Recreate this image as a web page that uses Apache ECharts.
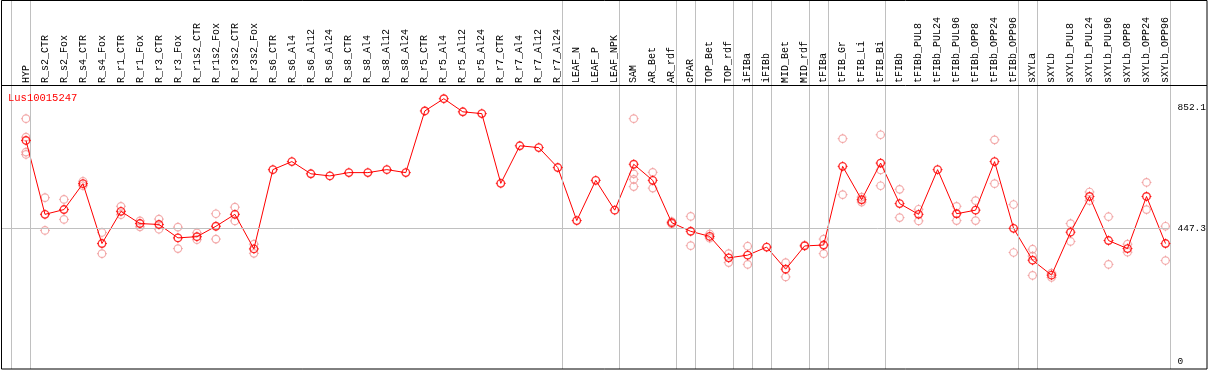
<!DOCTYPE html>
<html>
<head>
<meta charset="utf-8">
<script src="https://cdn.jsdelivr.net/npm/echarts@6/dist/echarts.min.js"></script>
<style>
html,body{margin:0;padding:0;background:#fff;}
#chart{width:1209px;height:370px;}
</style>
</head>
<body>
<div id="chart"></div>
<script>
const geneName = 'Lus10015247';
const categories = ['HYP','R_s2_CTR','R_s2_Fox','R_s4_CTR','R_s4_Fox','R_r1_CTR','R_r1_Fox','R_r3_CTR','R_r3_Fox','R_r1s2_CTR','R_r1s2_Fox','R_r3s2_CTR','R_r3s2_Fox','R_s6_CTR','R_s6_Al4','R_s6_Al12','R_s6_Al24','R_s8_CTR','R_s8_Al4','R_s8_Al12','R_s8_Al24','R_r5_CTR','R_r5_Al4','R_r5_Al12','R_r5_Al24','R_r7_CTR','R_r7_Al4','R_r7_Al12','R_r7_Al24','LEAF_N','LEAF_P','LEAF_NPK','SAM','AR_Bet','AR_rdf','cPAR','TOP_Bet','TOP_rdf','iFIBa','iFIBb','MID_Bet','MID_rdf','tFIBa','tFIB_Gr','tFIB_Li','tFIB_Bi','tFIBb','tFIBb_PUL8','tFIBb_PUL24','tFIBb_PUL96','tFIBb_OPP8','tFIBb_OPP24','tFIBb_OPP96','sXYLa','sXYLb','sXYLb_PUL8','sXYLb_PUL24','sXYLb_PUL96','sXYLb_OPP8','sXYLb_OPP24','sXYLb_OPP96'];
const meanValues = [742,494,510,597,396,504,463,460,415,419,454,494,378,644,671,630,623,634,634,644,634,841,882,838,832,598,724,718,651,473,608,508,662,608,466,437,420,348,357,384,310,388,391,655,543,666,530,494,644,496,508,671,447,340,290,434,554,406,379,554,396];
const replicateValues = [[815,753,703,695],[550,440],[544,477],[605,590],[433,362],[521,493],[472,452],[478,444],[451,379],[432,409],[496,411],[518,472],[394,363],[],[],[],[],[],[],[],[],[],[],[],[],[],[],[],[],[],[],[],[815,630,611,587],[635,582],[470,462],[487,389],[428,414],[362,332],[387,326],[],[332,284],[391],[411,362],[748,560],[552,535],[761,643,590],[578,483],[511,472],[],[521,473],[540,473],[744,597],[527,366],[377,354,289],[297,282],[463,403],[569,540],[486,326],[394,367],[601,510],[454,339]];
const groupStarts = ['HYP','R_s2_CTR','LEAF_N','SAM','cPAR','TOP_Bet','iFIBa','iFIBb','MID_Bet','tFIBa','tFIB_Gr','tFIBb','sXYLa','sXYLb'];
const yTickLabels = [0, 447.3, 852.1];
const refLineValue = 447.3;

// styling / layout constants
const SEP_OFFSET = 4 / 19;
const X_MIN = -25 / 19, X_MAX = 1144 / 19;
const FONT = '"Liberation Mono", "DejaVu Sans Mono", monospace';
const tickPath = 'path://M0,-5L0,-3.5M0,3.5L0,5M-5,0L-3.5,0M3.5,0L5,0';

const sepPositions = groupStarts.map(n => categories.indexOf(n) - 1 + SEP_OFFSET);
sepPositions.push(categories.length - 1 + SEP_OFFSET);

const mainData = meanValues.map((v, i) => [i, v]);
const repData = [];
replicateValues.forEach((arr, i) => arr.forEach(v => repData.push([i, v])));

function markerSeries(name, data, color, z, width) {
  return [
    {name: name, type: 'scatter', xAxisIndex: 1, yAxisIndex: 1, data: data,
      symbol: 'circle', symbolSize: 7.5, z: z, silent: true,
      itemStyle: {color: 'rgba(0,0,0,0)', borderColor: color, borderWidth: width}},
    {name: name, type: 'scatter', xAxisIndex: 1, yAxisIndex: 1, data: data,
      symbol: tickPath, symbolSize: 10, z: z, silent: true,
      itemStyle: {color: 'rgba(0,0,0,0)', borderColor: color, borderWidth: 1}}
  ];
}

const chart = echarts.init(document.getElementById('chart'), null, {renderer: 'canvas'});
chart.setOption({
  animation: false,
  backgroundColor: '#ffffff',
  title: {
    text: geneName, left: 8, top: 92, padding: 0,
    textStyle: {color: '#ff0000', fontFamily: FONT, fontSize: 10.5, fontWeight: 'normal', lineHeight: 12}
  },
  grid: [
    {left: 1, top: 0, width: 1169, height: 369, containLabel: false},
    {left: 1, top: 85, width: 1169, height: 284, containLabel: false}
  ],
  xAxis: [
    {gridIndex: 0, type: 'value', min: X_MIN, max: X_MAX, show: false},
    {gridIndex: 1, type: 'value', min: X_MIN, max: X_MAX, position: 'top',
      axisLine: {show: false}, axisTick: {show: false}, splitLine: {show: false},
      axisLabel: {
        customValues: categories.map((c, i) => i),
        formatter: v => categories[Math.round(v)] || '',
        rotate: 90, margin: 2, color: '#000', fontFamily: FONT, fontSize: 10
      }
    }
  ],
  yAxis: [
    {gridIndex: 0, type: 'value', min: 0, max: 1, show: false},
    {gridIndex: 1, type: 'value', min: -25, max: 928, position: 'right',
      axisLine: {show: false}, axisTick: {show: false}, splitLine: {show: false},
      axisLabel: {customValues: yTickLabels, formatter: v => String(v), margin: 8,
        color: '#000', fontFamily: FONT, fontSize: 9.5}
    }
  ],
  series: [
    {
      type: 'line', xAxisIndex: 0, yAxisIndex: 0, data: [], silent: true,
      markLine: {
        silent: true, symbol: 'none', animation: false,
        label: {show: false},
        lineStyle: {color: '#c0c0c0', width: 1, type: 'solid'},
        data: sepPositions.map(x => ({xAxis: x}))
      }
    },
    {
      type: 'line', xAxisIndex: 1, yAxisIndex: 1, data: [], silent: true,
      markLine: {
        silent: true, symbol: 'none', animation: false,
        label: {show: false},
        lineStyle: {color: '#c0c0c0', width: 1, type: 'solid'},
        data: [{yAxis: refLineValue}]
      }
    },
    ...markerSeries('replicates', repData, '#f09a9a', 3, 1.2),
    {
      name: geneName, type: 'line', xAxisIndex: 1, yAxisIndex: 1,
      data: mainData, symbol: 'none', z: 4, silent: true,
      lineStyle: {color: '#ff0000', width: 1}
    },
    ...markerSeries(geneName, mainData, '#ff0000', 5, 1.4)
  ],
  graphic: [
    {type: 'rect', silent: true, z: 100, shape: {x: 1.5, y: 0.5, width: 1205.5, height: 368.5},
      style: {fill: null, stroke: '#000', lineWidth: 1}},
    {type: 'line', silent: true, z: 100, shape: {x1: 1, y1: 85.5, x2: 1207, y2: 85.5},
      style: {stroke: '#000', lineWidth: 1}}
  ]
});
</script>
</body>
</html>
